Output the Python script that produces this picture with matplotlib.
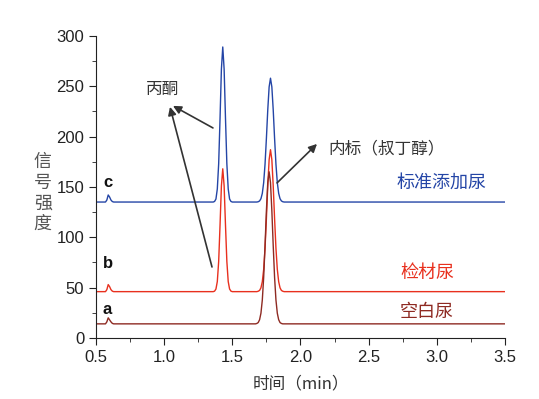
import matplotlib.pyplot as plt
from matplotlib.ticker import MultipleLocator

plt.rcParams['font.family'] = ['Liberation Sans', 'Noto Sans CJK SC', 'DejaVu Sans']

# retention time grid (min)
t = [0.50, 0.57, 0.58, 0.59, 0.60, 0.61, 0.62, 0.63,
     1.36, 1.37, 1.38, 1.39, 1.40, 1.41, 1.42, 1.43, 1.44, 1.45, 1.46, 1.47, 1.48, 1.49, 1.50,
     1.67, 1.68, 1.69, 1.70, 1.71, 1.72, 1.73, 1.74, 1.75, 1.76, 1.77, 1.78, 1.79, 1.80,
     1.81, 1.82, 1.83, 1.84, 1.85, 1.86, 1.87, 1.88,
     3.50]

# c: spiked urine
sig_c = [135, 135, 137, 142, 140, 137, 135.5, 135,
         135, 135.6, 138, 148, 173, 218, 267, 289, 267, 218, 173, 148, 138, 135.6, 135,
         135, 135, 135.3, 136.1, 138.3, 143.6, 154.3, 172.6, 198.2, 226.5, 249.3, 258, 249.3, 226.5,
         198.2, 172.6, 154.3, 143.6, 138.3, 136.1, 135.3, 135,
         135]

# b: sample urine
sig_b = [46, 46, 48, 53, 51, 48, 46.5, 46,
         46, 46.5, 48.6, 56, 76, 112, 151, 168, 151, 112, 76, 56, 48.6, 46.5, 46,
         46, 46, 46.4, 47.2, 49.8, 55.9, 68.1, 89.1, 118.5, 150.9, 177, 187, 177, 150.9,
         118.5, 89.1, 68.1, 55.9, 49.8, 47.2, 46.4, 46,
         46]

# a: blank urine
sig_a = [14, 14, 16, 20, 18, 16, 14.5, 14,
         14, 14, 14, 14, 14, 14, 14, 14, 14, 14, 14, 14, 14, 14, 14,
         14, 14.4, 15.3, 18.1, 24.6, 37.7, 60.2, 91.6, 126.3, 154.3, 165, 154.3, 126.3, 91.6,
         60.2, 37.7, 24.6, 18.1, 15.3, 14.4, 14, 14,
         14]

blue = '#2445a6'
red = '#e8301e'
dark = '#8e2a22'

fig = plt.figure(figsize=(5.39, 3.99), dpi=100)
ax = fig.add_axes([0.178, 0.153, 0.759, 0.757])

ax.plot(t, sig_c, color=blue, lw=1.0)
ax.plot(t, sig_b, color=red, lw=1.0)
ax.plot(t, sig_a, color=dark, lw=1.0)

ax.set_xlim(0.5, 3.5)
ax.set_ylim(0, 300)
ax.xaxis.set_major_locator(MultipleLocator(0.5))
ax.xaxis.set_minor_locator(MultipleLocator(0.25))
ax.yaxis.set_major_locator(MultipleLocator(50))
ax.yaxis.set_minor_locator(MultipleLocator(25))
ax.xaxis.set_major_formatter(plt.FormatStrFormatter('%.1f'))
for s in ['top', 'right']:
    ax.spines[s].set_visible(False)
for s in ['left', 'bottom']:
    ax.spines[s].set_color('#222')
ax.tick_params(which='major', direction='out', length=5, color='#222',
               labelsize=12, labelcolor='#222')
ax.tick_params(which='minor', direction='out', length=3, color='#222')

ax.set_xlabel('时间（min）', fontsize=12, color='#333', labelpad=8,
              family=['Noto Sans CJK SC'])
ax.text(-0.13, 0.48, '信\n号\n强\n度', transform=ax.transAxes, ha='center', va='center',
        fontsize=13, color='#555', linespacing=1.2, family=['Noto Sans CJK SC'])

cjk = ['Noto Sans CJK SC', 'DejaVu Sans']
ax.text(0.991, 247, '丙酮', ha='center', va='center', fontsize=12, color='#333', family=cjk)
ax.text(2.202, 188, '内标（叔丁醇）', ha='left', va='center', fontsize=12, color='#333', family=cjk)
ax.text(3.038, 154, '标准添加尿', ha='center', va='center', fontsize=13, color=blue, family=cjk)
ax.text(2.928, 64.6, '检材尿', ha='center', va='center', fontsize=13, color=red, family=cjk)
ax.text(2.928, 25.8, '空白尿', ha='center', va='center', fontsize=13, color=dark, family=cjk)

for lab, y in [('c', 154), ('b', 73.5), ('a', 27.8)]:
    ax.text(0.585, y, lab, ha='center', va='center', fontsize=12, fontweight='bold', color='#111')

arrow = dict(arrowstyle='-|>', color='#333', lw=1.2, mutation_scale=12, shrinkA=0, shrinkB=0)
ax.annotate('', xy=(1.065, 230.5), xytext=(1.358, 208.6), arrowprops=arrow)
ax.annotate('', xy=(1.043, 229.5), xytext=(1.351, 70.5), arrowprops=arrow)
ax.annotate('', xy=(2.121, 192.7), xytext=(1.828, 154), arrowprops=arrow)

fig.savefig('out.png', dpi=100)
